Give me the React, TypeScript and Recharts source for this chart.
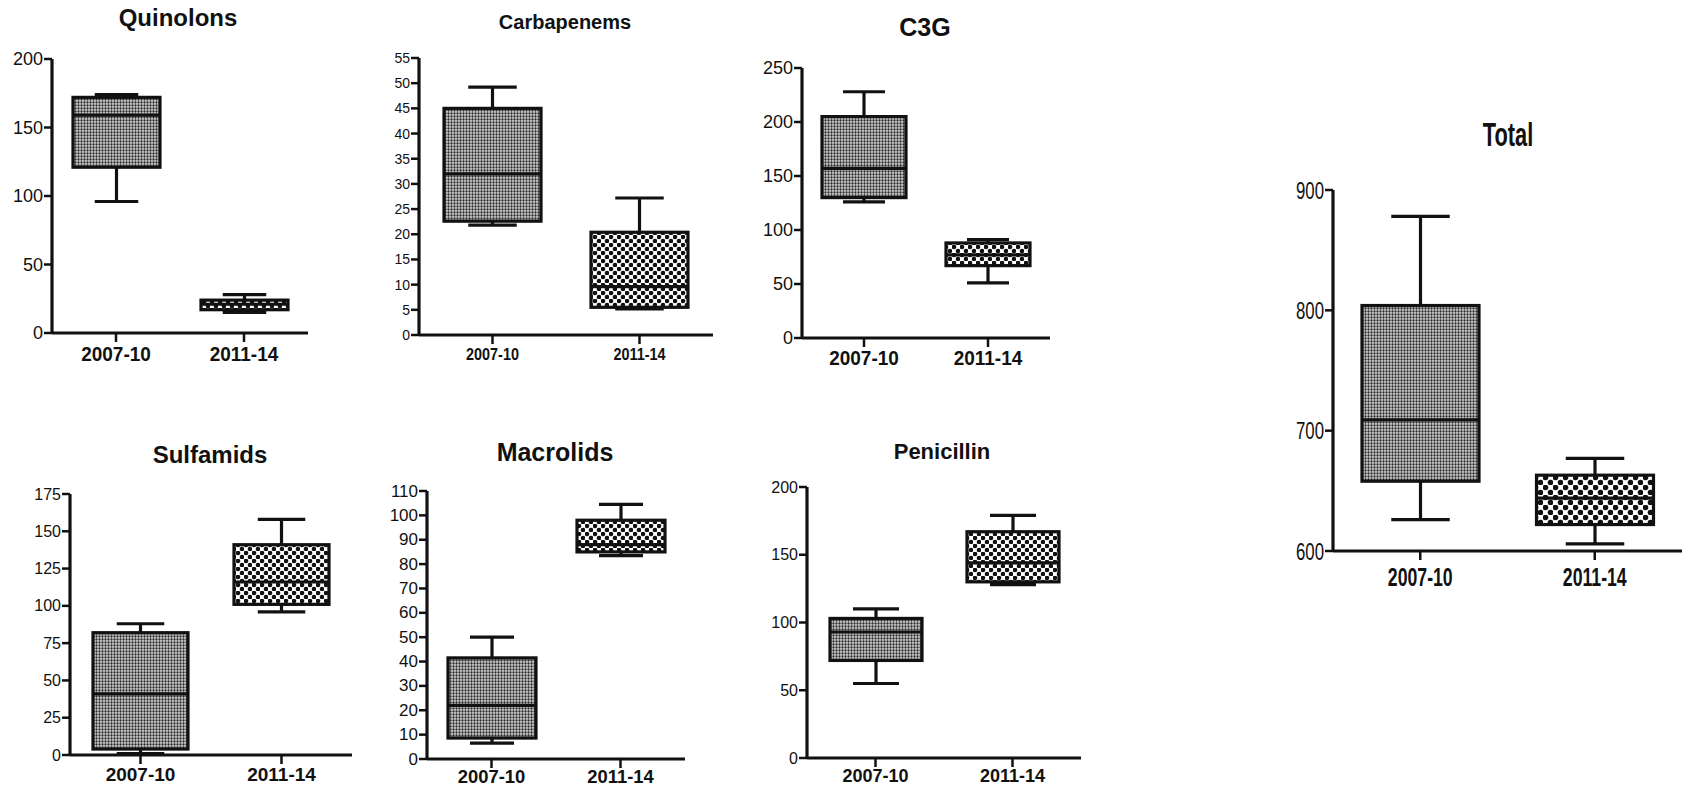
import React from 'react'
import { ComposedChart, Bar, XAxis, YAxis } from 'recharts'

const PERIODS = ['2007-10', '2011-14']

// [min, q1, median, q3, max] for 2007-10, then 2011-14
const quinolons = [[96, 121, 159, 172, 174], [15, 17, 21, 24, 28]]
const carbapenems = [[21.8, 22.6, 32, 45, 49.2], [5.2, 5.5, 9.6, 20.4, 27.2]]
const c3g = [[126, 130, 157, 205, 228], [51, 67, 77, 88, 91]]
const total = [[626, 658, 709, 804, 878], [606, 622, 644, 663, 677]]
const sulfamids = [[1, 4, 41, 82, 88], [96, 101, 116, 141, 158]]
const macrolids = [[6.5, 8.6, 22, 41.5, 50], [83.5, 85, 88, 98, 104.5]]
const penicillin = [[55, 72, 93, 103, 110], [128, 130, 144, 167, 179]]

const quinolonTicks = [0, 50, 100, 150, 200]
const carbapenemTicks = [0, 5, 10, 15, 20, 25, 30, 35, 40, 45, 50, 55]
const c3gTicks = [0, 50, 100, 150, 200, 250]
const totalTicks = [600, 700, 800, 900]
const sulfamidTicks = [0, 25, 50, 75, 100, 125, 150, 175]
const macrolidTicks = [0, 10, 20, 30, 40, 50, 60, 70, 80, 90, 100, 110]
const penicillinTicks = [0, 50, 100, 150, 200]

const FONT = "Arial, 'Liberation Sans', Helvetica, sans-serif"
const INK = '#111'

const toRows = (stats: number[][]) =>
    PERIODS.map((p, i) => ({ period: p, range: [stats[i][0], stats[i][4]], stats: stats[i] }))

const makeTick = (size: number, bold: boolean, sx: number, anchor: string, dx: number, dy: number) =>
    (props: any) => {
        const { x, y, payload } = props
        return (
            <g transform={`translate(${x + dx},${y + dy}) scale(${sx},1)`}>
                <text
                    textAnchor={anchor}
                    dominantBaseline="central"
                    fontSize={size}
                    fontWeight={bold ? 700 : 400}
                    fontFamily={FONT}
                    fill={INK}
                >
                    {payload.value}
                </text>
            </g>
        )
    }

const makeBox = (fills: string[]) => (props: any) => {
    const { x, y, width, height, payload, index } = props
    const [mn, q1, md, q3, mx] = payload.stats
    const top = Math.min(y, y + height)
    const bot = Math.max(y, y + height)
    const py = (v: number) => bot - ((v - mn) / (mx - mn)) * (bot - top)
    const cx = x + width / 2
    const cap = width / 4
    return (
        <g stroke={INK} strokeWidth={3.2} fill="none">
            <line x1={cx} x2={cx} y1={py(mx)} y2={py(q3)} />
            <line x1={cx} x2={cx} y1={py(q1)} y2={py(mn)} />
            <line x1={cx - cap} x2={cx + cap} y1={py(mx)} y2={py(mx)} />
            <line x1={cx - cap} x2={cx + cap} y1={py(mn)} y2={py(mn)} />
            <rect x={x} y={py(q3)} width={width} height={py(q1) - py(q3)} fill={fills[index]} />
            <line x1={x} x2={x + width} y1={py(md)} y2={py(md)} />
        </g>
    )
}

interface PanelProps {
    title: string
    stats: number[][]
    ticks: number[]
    x0: number
    x1: number
    yTop: number
    yBot: number
    barSize: number
    titleX: number
    titleY: number
    titleSize: number
    titleSx?: number
    yFont: number
    ySx?: number
    xFont: number
    xSx?: number
    xOffset: number
    coarse?: string
}

const YW = 50
const XH = 45
const TOP = 15

function Panel(p: PanelProps) {
    const left = p.x0 - YW
    const top = p.yTop - TOP
    const right = p.x1 >= 1680 ? 0 : 6
    const width = p.x1 - left + right
    const height = Math.min(p.yBot - top + XH, 788 - top)
    const fills = ['url(#fine)', `url(#${p.coarse ?? 'coarse'})`]
    const tsx = p.titleSx ?? 1
    return (
        <>
            <div
                style={{
                    position: 'absolute',
                    left: p.titleX - 150,
                    top: p.titleY - p.titleSize * 0.6,
                    width: 300,
                    lineHeight: `${p.titleSize * 1.2}px`,
                    fontSize: p.titleSize,
                    fontWeight: 700,
                    fontFamily: FONT,
                    color: INK,
                    textAlign: 'center',
                    transform: `scaleX(${tsx})`,
                }}
            >
                {p.title}
            </div>
            <div style={{ position: 'absolute', left, top }}>
                <ComposedChart
                    width={width}
                    height={height}
                    data={toRows(p.stats)}
                    margin={{ top: TOP, right, bottom: 0, left: 0 }}
                >
                    <XAxis
                        dataKey="period"
                        axisLine={{ stroke: INK, strokeWidth: 3.2 }}
                        tickLine={{ stroke: INK, strokeWidth: 2.5 }}
                        tickSize={9}
                        tickMargin={0}
                        height={height - (p.yBot - top)}
                        interval={0}
                        tick={makeTick(p.xFont, true, p.xSx ?? 1, 'middle', 0, p.xOffset - 9)}
                    />
                    <YAxis
                        type="number"
                        domain={[p.ticks[0], p.ticks[p.ticks.length - 1]]}
                        ticks={p.ticks}
                        interval={0}
                        width={YW}
                        axisLine={{ stroke: INK, strokeWidth: 3.2 }}
                        tickLine={{ stroke: INK, strokeWidth: 2.5 }}
                        tickSize={8}
                        tickMargin={1}
                        tick={makeTick(p.yFont, false, p.ySx ?? 1, 'end', 0, 0)}
                    />
                    <Bar
                        dataKey="range"
                        barSize={p.barSize}
                        isAnimationActive={false}
                        shape={makeBox(fills)}
                    />
                </ComposedChart>
            </div>
        </>
    )
}

export default function App() {
    return (
        <div
            style={{
                position: 'absolute',
                left: 0,
                top: 0,
                width: 1682,
                height: 788,
                background: '#fff',
                overflow: 'hidden',
            }}
        >
            <svg width={0} height={0} style={{ position: 'absolute' }}>
                <defs>
                    <pattern id="fine" width={3} height={3} patternUnits="userSpaceOnUse">
                        <rect width={3} height={3} fill="#d2d2d2" />
                        <circle cx={1.5} cy={1.5} r={1.15} fill="#2a2a2a" />
                    </pattern>
                    <pattern id="coarse" width={8} height={8} patternUnits="userSpaceOnUse">
                        <rect width={8} height={8} fill="#fff" />
                        <circle cx={2} cy={2} r={2.3} fill={INK} />
                        <circle cx={6} cy={6} r={2.3} fill={INK} />
                    </pattern>
                    <pattern id="coarseBig" width={10} height={10} patternUnits="userSpaceOnUse">
                        <rect width={10} height={10} fill="#fff" />
                        <circle cx={2.5} cy={2.5} r={2.8} fill={INK} />
                        <circle cx={7.5} cy={7.5} r={2.8} fill={INK} />
                    </pattern>
                </defs>
            </svg>

            <Panel title="Quinolons" stats={quinolons} ticks={quinolonTicks}
                x0={52} x1={308} yTop={59} yBot={333} barSize={87}
                titleX={178} titleY={18} titleSize={24}
                yFont={18} xFont={20} xSx={0.95} xOffset={21} />
            <Panel title="Carbapenems" stats={carbapenems} ticks={carbapenemTicks}
                x0={419} x1={713} yTop={58} yBot={335} barSize={97}
                titleX={565} titleY={22} titleSize={20}
                yFont={14} xFont={16} xSx={0.9} xOffset={19} />
            <Panel title="C3G" stats={c3g} ticks={c3gTicks}
                x0={802} x1={1050} yTop={68} yBot={338} barSize={84}
                titleX={925} titleY={27} titleSize={25}
                yFont={18} xFont={20} xSx={0.95} xOffset={20} />
            <Panel title="Total" stats={total} ticks={totalTicks}
                x0={1333} x1={1682} yTop={190} yBot={551} barSize={117}
                titleX={1508} titleY={135} titleSize={33} titleSx={0.66}
                yFont={24} ySx={0.7} xFont={26} xSx={0.68} xOffset={26} coarse="coarseBig" />
            <Panel title="Sulfamids" stats={sulfamids} ticks={sulfamidTicks}
                x0={70} x1={352} yTop={494} yBot={755} barSize={95}
                titleX={210} titleY={455} titleSize={24}
                yFont={16} xFont={19} xOffset={19} />
            <Panel title="Macrolids" stats={macrolids} ticks={macrolidTicks}
                x0={427} x1={685} yTop={491} yBot={759} barSize={88}
                titleX={555} titleY={452} titleSize={25}
                yFont={17} xFont={19} xSx={0.97} xOffset={17} />
            <Panel title="Penicillin" stats={penicillin} ticks={penicillinTicks}
                x0={807} x1={1081} yTop={487} yBot={758} barSize={92}
                titleX={942} titleY={452} titleSize={22}
                yFont={16} xFont={18} xOffset={18} />
        </div>
    )
}
